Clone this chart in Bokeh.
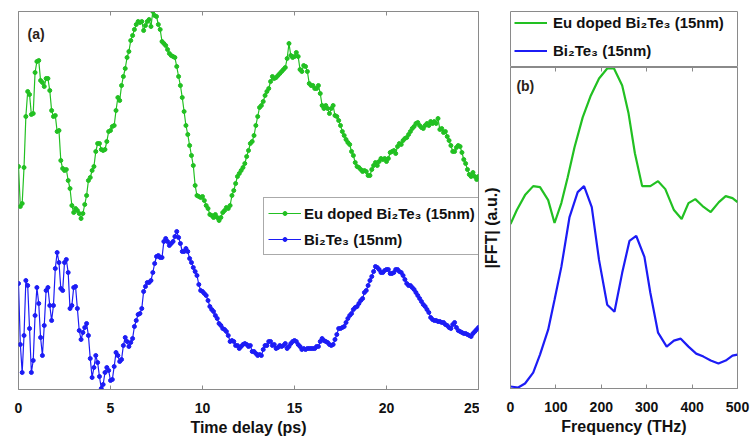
import numpy as np
from bokeh.plotting import figure
from bokeh.models import Range1d, LinearAxis, FixedTicker, Legend, LegendItem, Label
from bokeh.layouts import row, column
from bokeh.embed import file_html
from bokeh.resources import INLINE
from bokeh.core.properties import value

FONT = "Liberation Sans"
GREEN = "#22c022"
BLUE = "#1c1cf5"
FRAME = "#8a8a8a"
TEXT = "#111111"

# ---------------- data: panel (a) time domain ----------------
time_ps = np.round(np.arange(251) * 0.1, 1)

eu_signal = [
    223, 183, 186, 222, 273, 298, 295, 275, 276, 317, 328, 329, 309, 307, 303, 311, 311, 299, 279, 273,
    274, 258, 259, 229, 221, 219, 220, 209, 201, 184, 177, 181, 179, 176, 171, 176, 185, 194, 209, 212,
    219, 223, 238, 246, 246, 240, 239, 240, 248, 258, 259, 263, 264, 279, 292, 289, 304, 313, 321, 332,
    338, 349, 354, 360,
    365, 368, 367, 368, 359, 364, 368, 370, 363, 378, 374, 373, 365, 360, 348, 346, 344, 340, 336, 334,
    333, 332, 323, 313, 304, 292, 278, 264, 255, 244, 234, 224, 204, 194, 193, 192, 193, 189, 184, 181,
    175, 174, 172, 175, 172, 169, 172, 177, 179, 182, 181, 184, 194, 199, 206, 213, 216, 219, 222, 226,
    233, 239, 246,
    248, 254, 264, 273, 282, 284, 288, 294, 298, 301, 308, 313, 311, 312, 314, 316, 318, 320, 322, 331,
    346, 334, 332, 333, 337, 333, 320, 318, 324, 323, 318, 306, 304, 304, 301, 301, 304, 296, 284, 281,
    284, 281, 276, 281, 284, 274, 273, 269, 264, 258, 254, 250, 247, 245, 238, 234, 227, 223, 222, 220,
    218, 219,
    218, 214, 214, 220, 224, 227, 224, 228, 231, 230, 231, 228, 231, 237, 238, 239, 236, 243, 246, 245,
    249, 251, 252, 255, 258, 261, 263, 266, 267, 264, 262, 261, 264, 266, 264, 268, 266, 268, 266, 271,
    260, 261, 257, 258, 253, 249, 244, 238, 238, 242, 244, 243, 237, 230, 226, 220, 215, 213, 217, 213,
    210, 213,
]

bi_signal = [
    106, 45, 17, 54, 109, 104, 61, 17, 29, 74, 102, 86, 52, 34, 64, 99, 102, 84, 69, 84,
    121, 137, 127, 101, 99, 127, 130, 117, 81, 84, 102, 103, 81, 59, 50, 57, 62, 66, 54, 31,
    12, 22, 34, 27, 13, 1, 5, 17, 22, 19, 9, 10, 23, 37, 34, 28, 30, 44, 52, 48,
    43, 47, 51, 63, 69, 75, 76, 81, 98, 103, 107, 107, 109, 117, 126, 133, 134, 132, 132, 148,
    151,
    148, 144, 146, 148, 153, 158, 152, 146, 138, 138, 141, 138, 131, 127, 122, 118, 114, 105, 99, 98,
    96, 94, 89, 83, 80, 78, 74, 71, 66, 64, 61, 60, 58, 54, 48, 49, 48, 44, 44, 41,
    43, 45, 46, 45, 43, 44,
    38, 38, 36, 34, 35, 34, 40, 44, 44, 48, 48, 44, 45, 41, 42, 44, 43, 44, 46, 41,
    43, 46, 48, 49, 48, 45, 43, 40, 41, 40, 41, 41, 41, 41, 41, 43, 43, 48, 51, 49,
    48, 47, 45, 44, 45, 50, 55, 61,
    61, 62, 63, 67, 71, 74, 76, 80, 82, 83, 86, 89, 91, 97, 99, 104, 109, 113, 118, 123,
    122, 120, 117, 117, 119, 120, 120, 116, 116, 117, 120, 120, 118, 117, 114, 110, 106, 104, 104, 102,
    100, 97, 94, 91, 88, 85, 83, 80, 77, 72, 70, 69, 69, 68, 68, 67, 67, 65, 64, 62,
    61, 65, 67, 62, 59, 58, 57, 56, 56, 55, 54, 53, 56, 58, 60, 62,
]

time_ticks = [0, 5, 10, 15, 20, 25]

# ---------------- data: panel (b) FFT ----------------
fft_freq_eu = [0, 14, 32, 50, 65, 83, 97, 112, 126, 141, 159, 177, 195, 213, 228, 246,
               260, 274, 290, 308, 325, 341, 360, 377, 392, 407, 423, 441, 459, 474, 489, 500]
fft_eu = [164, 178, 193, 202, 201, 188, 165, 185, 211, 241, 271, 293, 310, 320, 320, 303,
          275, 235, 202, 202, 207, 199, 178, 169, 185, 189, 182, 176, 186, 192, 190, 186]
fft_freq_bi = [0, 17, 32, 50, 65, 83, 97, 112, 130, 148, 162, 179, 195, 213, 229, 246,
               262, 277, 295, 308, 325, 344, 360, 375, 392, 409, 425, 441, 458, 474, 489, 500]
fft_bi = [1, 0, 4, 15, 33, 58, 88, 121, 171, 196, 202, 181, 128, 83, 76, 115,
          147, 152, 131, 95, 55, 41, 47, 49, 41, 34, 31, 27, 24, 27, 32, 33]
freq_ticks = [0, 100, 200, 300, 400, 500]

label_eu = "Eu doped Bi\u2082Te\u2083 (15nm)"
label_bi = "Bi\u2082Te\u2083 (15nm)"


def style_bottom_axis(ax, ticks, title):
    ax.ticker = FixedTicker(ticks=ticks)
    ax.major_tick_in = 4
    ax.major_tick_out = 0
    ax.minor_tick_line_color = None
    ax.axis_line_color = FRAME
    ax.major_tick_line_color = FRAME
    ax.major_label_text_font = FONT
    ax.major_label_text_font_style = "bold"
    ax.major_label_text_font_size = "14px"
    ax.major_label_text_color = TEXT
    ax.major_label_standoff = 13
    ax.axis_label = title
    ax.axis_label_text_font = FONT
    ax.axis_label_text_font_style = "bold"
    ax.axis_label_text_font_size = "16px"
    ax.axis_label_text_color = TEXT
    ax.axis_label_standoff = 3


def top_tick_axis(ticks):
    # ticks only (drawn as minor ticks, so no tick texts are produced)
    return LinearAxis(ticker=FixedTicker(ticks=[], minor_ticks=ticks),
                      major_tick_in=0, major_tick_out=0,
                      minor_tick_in=4, minor_tick_out=0,
                      minor_tick_line_color=FRAME, axis_line_color=FRAME,
                      major_label_standoff=0)


# ---------------- panel (a) ----------------
pa = figure(width=479, height=441, x_range=Range1d(0, 25), y_range=Range1d(0, 378),
            output_backend="svg", toolbar_location=None, y_axis_location=None,
            min_border_left=18, min_border_right=1, min_border_top=11, min_border_bottom=52)
pa.outline_line_color = FRAME
pa.grid.visible = False
style_bottom_axis(pa.xaxis[0], time_ticks, "Time delay (ps)")
pa.add_layout(top_tick_axis(time_ticks), "above")

la = pa.line(time_ps, eu_signal, line_color=GREEN, line_width=1.2)
sa = pa.scatter(time_ps, eu_signal, size=4, fill_color=GREEN, line_color=GREEN)
lb = pa.line(time_ps, bi_signal, line_color=BLUE, line_width=1.2)
sb = pa.scatter(time_ps, bi_signal, size=4, fill_color=BLUE, line_color=BLUE)

leg_a = Legend(items=[LegendItem(label=value(label_eu), renderers=[la, sa]),
                      LegendItem(label=value(label_bi), renderers=[lb, sb])],
               location=(245, 134), margin=0, padding=4, spacing=4,
               label_height=22, glyph_height=10, glyph_width=33, label_standoff=3,
               label_text_font=FONT, label_text_font_style="bold",
               label_text_font_size="15px", label_text_color=TEXT,
               border_line_color="#555555", border_line_width=1,
               background_fill_color="white", background_fill_alpha=1)
pa.add_layout(leg_a)

pa.add_layout(Label(x=0.49, y=364, text="(a)", text_font=FONT, text_font_style="bold",
                    text_font_size="14px", text_color="#2a2218", text_baseline="top"))

# ---------------- panel (b) legend strip ----------------
pleg = figure(width=271, height=67, x_range=Range1d(0, 1), y_range=Range1d(0, 1),
              output_backend="svg", toolbar_location=None,
              x_axis_location=None, y_axis_location=None,
              min_border_left=28, min_border_right=13, min_border_top=11, min_border_bottom=0)
pleg.outline_line_color = FRAME
pleg.grid.visible = False
g1 = pleg.line([-2, -1], [-2, -1], line_color=GREEN, line_width=2.2)
g2 = pleg.line([-2, -1], [-2, -1], line_color=BLUE, line_width=2.2)
leg_b = Legend(items=[LegendItem(label=value(label_eu), renderers=[g1]),
                      LegendItem(label=value(label_bi), renderers=[g2])],
               location=(4, 6), margin=0, padding=1, spacing=7,
               label_height=21, glyph_height=21, glyph_width=33, label_standoff=6,
               label_text_font=FONT, label_text_font_style="bold",
               label_text_font_size="15px", label_text_color=TEXT,
               border_line_color=None, background_fill_alpha=0)
pleg.add_layout(leg_b)

# ---------------- panel (b) ----------------
pb = figure(width=271, height=374, x_range=Range1d(0, 500), y_range=Range1d(-1, 321),
            output_backend="svg", toolbar_location=None,
            min_border_left=28, min_border_right=13, min_border_top=0, min_border_bottom=53)
pb.outline_line_color = FRAME
pb.grid.visible = False
style_bottom_axis(pb.xaxis[0], freq_ticks, "Frequency (THz)")
pb.add_layout(top_tick_axis(freq_ticks), "above")
ya = pb.yaxis[0]
ya.ticker = FixedTicker(ticks=[])
ya.major_tick_out = 0
ya.major_tick_in = 0
ya.minor_tick_line_color = None
ya.major_label_standoff = 0
ya.axis_line_color = FRAME
ya.axis_label = "|FFT| (a.u.)"
ya.axis_label_text_font = FONT
ya.axis_label_text_font_style = "bold"
ya.axis_label_text_font_size = "16px"
ya.axis_label_text_color = TEXT
ya.axis_label_standoff = 11

pb.line(fft_freq_eu, fft_eu, line_color=GREEN, line_width=2.2)
pb.line(fft_freq_bi, fft_bi, line_color=BLUE, line_width=2.2)
pb.add_layout(Label(x=13, y=310, text="(b)", text_font=FONT, text_font_style="bold",
                    text_font_size="14px", text_color="#2a2218", text_baseline="top"))

layout = row(pa, column(pleg, pb))
open("out.html", "w").write(file_html(layout, INLINE))
